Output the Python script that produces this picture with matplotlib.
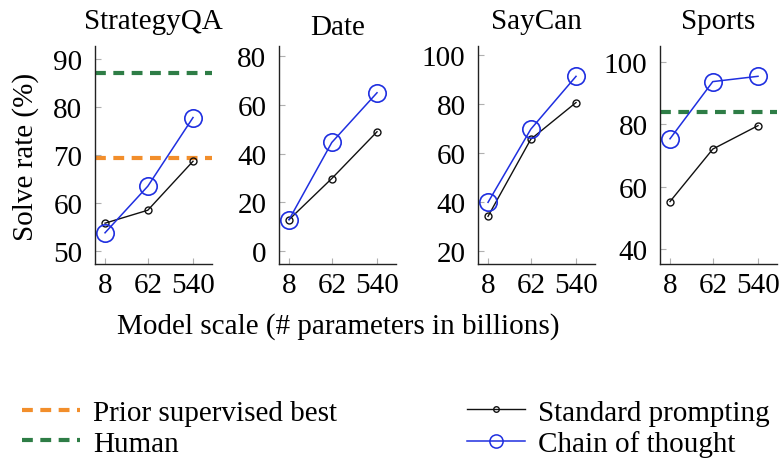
import matplotlib
matplotlib.use("Agg")
import matplotlib.pyplot as plt
from matplotlib.lines import Line2D

plt.rcParams['font.family'] = ['Liberation Serif', 'DejaVu Serif']

# ---- data ----
model_sizes = [8, 62, 540]
size_labels = ["8", "62", "540"]
tasks = ["StrategyQA", "Date", "SayCan", "Sports"]
standard = {
    "StrategyQA": [55.8, 58.5, 68.7],
    "Date": [12.9, 29.8, 49.0],
    "SayCan": [34.2, 65.7, 80.7],
    "Sports": [55.2, 72.0, 79.5],
}
cot = {
    "StrategyQA": [53.8, 63.5, 77.8],
    "Date": [12.9, 44.6, 65.0],
    "SayCan": [39.9, 69.8, 91.4],
    "Sports": [75.3, 93.6, 95.3],
}
prior_best = {"StrategyQA": 69.4}
human = {"StrategyQA": 87.0, "Sports": 84.0}
yticks = {
    "StrategyQA": [50, 60, 70, 80, 90],
    "Date": [0, 20, 40, 60, 80],
    "SayCan": [20, 40, 60, 80, 100],
    "Sports": [40, 60, 80, 100],
}
ylims = {
    "StrategyQA": (47.3, 92.7),
    "Date": (-5.3, 84.2),
    "SayCan": (14.7, 103.8),
    "Sports": (35.2, 105.0),
}

W, H = 782, 460
fig = plt.figure(figsize=(W / 100, H / 100), dpi=100)

lefts = [95, 279, 478, 660]
ax_w, top_px, bot_px = 117, 47, 265
orange = "#f28e2b"
green = "#2e7d46"
blue = "#1f2fe0"
fs = 21
dash = (2.6, 1.8)

axes = []
for task, lpx in zip(tasks, lefts):
    ax = fig.add_axes([lpx / W, (H - bot_px) / H, ax_w / W, (bot_px - top_px) / H])
    axes.append(ax)
    ax.set_xscale("log")
    ax.set_xlim(4.95, 1340)
    ax.set_ylim(*ylims[task])
    ax.set_xticks(model_sizes)
    ax.set_xticklabels(size_labels)
    ax.minorticks_off()
    ax.set_yticks(yticks[task])
    ax.tick_params(direction="in", length=4, color="#b0b0b0", labelsize=fs)
    ax.tick_params(axis="x", pad=6)
    ax.tick_params(axis="y", pad=9)
    for s in ["top", "right"]:
        ax.spines[s].set_visible(False)
    for s in ["left", "bottom"]:
        ax.spines[s].set_linewidth(1.0)
        ax.spines[s].set_color("#222222")
    if task in prior_best:
        ax.axhline(prior_best[task], color=orange, lw=3, dashes=dash)
    if task in human:
        ax.axhline(human[task], color=green, lw=3, dashes=dash)
    ax.plot(model_sizes, standard[task], color="#111111", lw=1.0, marker="o",
            ms=5, mfc="none", mec="#111111", mew=1.0)
    ax.plot(model_sizes, cot[task], color=blue, lw=1.1, marker="o",
            ms=12.5, mfc="none", mec=blue, mew=1.2)
    title_y = 1.083 if task != "Date" else 1.055
    ax.set_title(task, fontsize=fs, y=title_y, va="baseline", pad=0)

fig.text(26 / W, 1 - 157 / H, "Solve rate (%)", fontsize=fs, rotation=90,
         ha="center", va="center")
fig.text(338 / W, 1 - 334 / H, "Model scale (# parameters in billions)",
         fontsize=fs, ha="center", va="baseline")

h_prior = Line2D([], [], color=orange, lw=3, dashes=dash)
h_human = Line2D([], [], color=green, lw=3, dashes=dash)
h_std = Line2D([], [], color="#111111", lw=1.0, marker="o", ms=4,
               mfc="none", mec="#111111", mew=1.0)
h_cot = Line2D([], [], color=blue, lw=1.1, marker="o", ms=9.5,
               mfc="none", mec=blue, mew=1.1)

leg_kw = dict(frameon=False, fontsize=fs, handlelength=2.0, handletextpad=0.45,
              labelspacing=0.15, borderpad=0, borderaxespad=0, loc="center left")
fig.legend([h_prior, h_human], ["Prior supervised best", "Human"],
           bbox_to_anchor=(22 / W, 1 - 429 / H), **leg_kw)
fig.legend([h_std, h_cot], ["Standard prompting", "Chain of thought"],
           bbox_to_anchor=(467 / W, 1 - 429 / H), **leg_kw)

fig.savefig("out.png", dpi=100)
